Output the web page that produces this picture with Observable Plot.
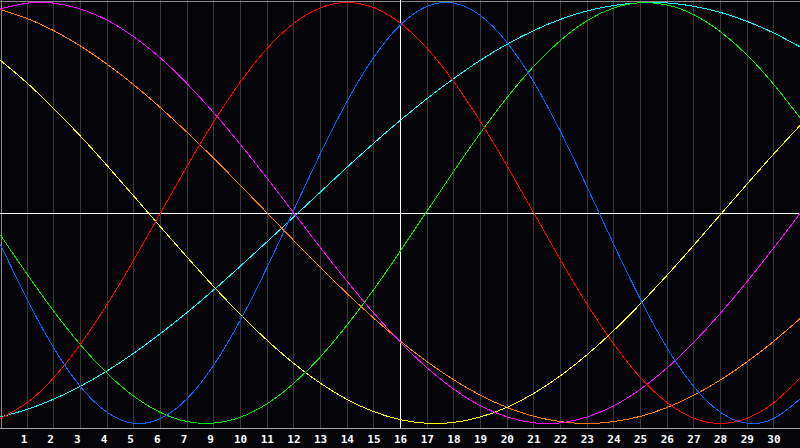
<!DOCTYPE html>
<html>
<head>
<meta charset="utf-8">
<script src="https://cdn.jsdelivr.net/npm/d3@7"></script>
<script src="https://cdn.jsdelivr.net/npm/@observablehq/plot@0.6"></script>
<style>
html, body { margin: 0; padding: 0; background: #050509; }
#chart svg { display: block; }
</style>
</head>
<body>
<div id="chart"></div>
<script>
// x positions (grid index) 0..30
const steps = d3.range(0, 31);
// tick labels placed at grid lines 1..29 (label "8" is absent in the reference)
const tickPos = [1,2,3,4,5,6,7,8,9,10,11,12,13,14,15,16,17,18,19,20,21,22,23,24,25,26,27,28,29];
const tickLabels = ["1","2","3","4","5","6","7","9","10","11","12","13","14","15","16","17","18","19","20","21","22","23","24","25","26","27","28","29","30"];
const todayPos = 15;

// series values at each grid index 0..30
const blue = [-0.150,-0.411,-0.642,-0.825,-0.947,-0.999,-0.976,-0.882,-0.722,-0.508,-0.257,0.014,0.283,0.531,0.740,0.894,0.982,0.997,0.938,0.809,0.622,0.387,0.123,-0.150,-0.411,-0.642,-0.825,-0.947,-0.999,-0.976,-0.882];
const red = [-0.975,-0.901,-0.782,-0.623,-0.434,-0.223,0.000,0.223,0.434,0.623,0.782,0.901,0.975,1.000,0.975,0.901,0.782,0.623,0.434,0.223,0.000,-0.223,-0.434,-0.623,-0.782,-0.901,-0.975,-1.000,-0.975,-0.901,-0.782];
const green = [-0.105,-0.291,-0.467,-0.626,-0.762,-0.871,-0.948,-0.991,-0.998,-0.970,-0.906,-0.809,-0.683,-0.532,-0.363,-0.180,0.010,0.199,0.381,0.549,0.697,0.820,0.914,0.974,0.999,0.988,0.942,0.861,0.750,0.610,0.450];
const magenta = [0.969,0.997,0.997,0.969,0.916,0.837,0.736,0.614,0.476,0.325,0.165,0.000,-0.165,-0.325,-0.476,-0.614,-0.736,-0.837,-0.916,-0.969,-0.997,-0.997,-0.969,-0.916,-0.837,-0.736,-0.614,-0.476,-0.325,-0.165,0.000];
const orange = [0.966,0.924,0.866,0.793,0.707,0.609,0.500,0.383,0.259,0.131,0.000,-0.131,-0.259,-0.383,-0.500,-0.609,-0.707,-0.793,-0.866,-0.924,-0.966,-0.991,-1.000,-0.991,-0.966,-0.924,-0.866,-0.793,-0.707,-0.609,-0.500];
const yellow = [0.725,0.617,0.496,0.365,0.225,0.080,-0.066,-0.210,-0.350,-0.483,-0.605,-0.715,-0.809,-0.886,-0.944,-0.982,-0.999,-0.995,-0.969,-0.923,-0.857,-0.773,-0.673,-0.558,-0.431,-0.295,-0.153,-0.007,0.138,0.281,0.418];
const cyan = [-0.969,-0.933,-0.884,-0.823,-0.750,-0.666,-0.573,-0.472,-0.365,-0.252,-0.136,-0.018,0.100,0.218,0.332,0.441,0.544,0.639,0.726,0.802,0.867,0.920,0.960,0.986,0.999,0.998,0.982,0.953,0.910,0.855,0.788];

const seriesList = [
  {name: "cyan", color: "#00ffff", values: cyan},
  {name: "orange", color: "#ff8000", values: orange},
  {name: "yellow", color: "#ffff00", values: yellow},
  {name: "magenta", color: "#ff00ff", values: magenta},
  {name: "green", color: "#00e800", values: green},
  {name: "red", color: "#ff0000", values: red},
  {name: "blue", color: "#0a64ff", values: blue}
];

const yMin = -1.0238, yMax = 1.0095;

const marks = [
  // vertical grid
  Plot.ruleX(tickPos.filter(p => p !== todayPos), {x: d => d, y1: yMin, y2: yMax, stroke: "#3a3a3a", strokeWidth: 1, shapeRendering: "crispEdges"}),
  // frame edges
  Plot.ruleY([yMax], {stroke: "#8a8a8a", strokeWidth: 1, dy: 0.5, shapeRendering: "crispEdges"}),
  Plot.ruleX([0], {y1: yMin, y2: yMax, stroke: "#8a8a8a", strokeWidth: 1, dx: 0.5, shapeRendering: "crispEdges"}),
  Plot.ruleY([yMin], {stroke: "#a8a8a8", strokeWidth: 1, dy: 0, shapeRendering: "crispEdges"}),
  // white zero line and today line
  Plot.ruleY([0], {stroke: "#ffffff", strokeWidth: 1, dy: 1, shapeRendering: "crispEdges"}),
  Plot.ruleX([todayPos], {y1: yMin, y2: yMax, stroke: "#ffffff", strokeWidth: 1, shapeRendering: "crispEdges"})
];

for (const s of seriesList) {
  marks.push(Plot.line(steps.map((x, i) => ({x, v: s.values[i]})), {
    x: "x", y: "v", stroke: s.color, strokeWidth: 1, curve: "natural", shapeRendering: "crispEdges"
  }));
}

marks.push(Plot.text(tickPos.map((p, i) => ({p, t: tickLabels[i]})), {
  x: "p", y: () => yMin, text: "t", dy: 11, dx: -6.5, textAnchor: "start",
  fill: "#ffffff", fontWeight: "bold", fontSize: 11, fontFamily: "DejaVu Sans Mono"
}));

const chart = Plot.plot({
  width: 800,
  height: 448,
  marginTop: 0, marginBottom: 20, marginLeft: 0, marginRight: 0,
  style: {background: "#050509", overflow: "visible"},
  x: {domain: [0, 30], axis: null},
  y: {domain: [yMin, yMax], axis: null},
  marks
});
document.getElementById("chart").appendChild(chart);
</script>
</body>
</html>
